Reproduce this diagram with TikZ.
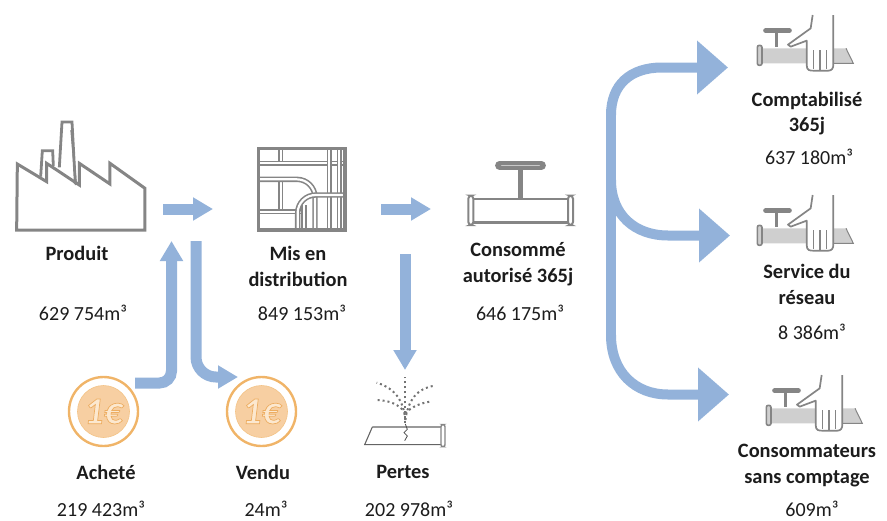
\documentclass[tikz,border=0pt]{standalone}
\usepackage{fontspec}
\setmainfont{Carlito}
\usetikzlibrary{arrows.meta}
\definecolor{flow}{HTML}{93B2DA}
\definecolor{ico}{HTML}{858585}
\definecolor{pipefill}{HTML}{CFCFCF}
\definecolor{coinring}{HTML}{F0B468}
\definecolor{coinfill}{HTML}{F7CFA2}
\definecolor{txt}{HTML}{1C1C1C}
\tikzset{
  title/.style={font=\fontsize{20.4}{25.5}\selectfont\bfseries,text=txt,align=center,inner sep=0pt},
  qty/.style={font=\fontsize{20}{22}\selectfont,text=txt,inner sep=0pt},
  flowS/.style={draw=flow,line width=11pt,rounded corners=#1,-{Triangle[length=20pt,width=22pt]}},
  flowS/.default=0pt,
  flowB/.style={draw=flow,line width=10pt,-{Triangle[length=31pt,width=52pt]}},
  ic/.style={draw=ico,line width=2.4pt,line join=miter},
  pp/.style={draw=ico,line width=1.6pt,double=white,double distance=2.2pt},
  zoomunits/.style={x=.33333pt,y=-.33333pt},
}
\newcommand{\handvalve}[3]{%
 \begin{scope}[shift={(#1,#2)},zoomunits]
  \node[inner sep=0pt] (#3) at (615,125) {};
  \fill[pipefill] (485,145) -- (738,145) -- (760,190) -- (485,190) -- cycle;
  \draw[ico,line width=1pt] (738,145) -- (760,190) -- (700,190);
  \draw[ico,line width=1.6pt,fill=pipefill,rounded corners=2pt] (472,136) rectangle (486,196);
  \draw[ico,line width=3.4pt] (530,95) -- (530,142);
  \draw[ico,line width=5pt,line cap=round] (497,92) -- (568,92);
  \draw[ico,line width=1.7pt,fill=white,line join=round]
    (638,45) -- (632,85) -- (564,134) -- (572,140) -- (620,122) -- (620,195)
    .. controls (620,212) and (630,212) .. (640,212) -- (685,212)
    .. controls (695,212) and (700,205) .. (700,195) -- (700,45);
  \draw[ico,line width=1.4pt] (640,150) -- (640,208) (660,150) -- (660,210) (680,150) -- (680,208);
 \end{scope}}
\newcommand{\coinicon}[3]{%
  \node[circle,draw=coinring,line width=2.4pt,minimum size=69pt,inner sep=0pt] (#3) at (#1,#2) {};
  \node[circle,draw=coinring!80,fill=coinfill,line width=.6pt,minimum size=52pt,inner sep=0pt,
        font=\fontsize{38}{38}\selectfont\bfseries\itshape] at (#1,#2)
        {\special{pdf:code q 2 Tr 0.7 w 0.93 0.68 0.38 RG 0.99 0.91 0.81 rg}1€\special{pdf:code Q}};
}
\begin{document}
\begin{tikzpicture}[x=1pt,y=-1pt]
\useasboundingbox (0,0) rectangle (887,520);

% factory
\begin{scope}[shift={(0,110)},zoomunits]
  \node[inner sep=0pt] (factory) at (240,200) {};
  \draw[ic,line width=2.8pt] (122,200) -- (127,122) -- (158,122) -- (160,168);
  \draw[ic,line width=2.8pt] (178,172) -- (186,36) -- (216,36) -- (226,222);
  \draw[ic,line width=2pt] (214,60) -- (228,225);
  \draw[ic,line width=3pt] (52,162) -- (140,215) -- (140,160) -- (238,225) -- (238,160)
     -- (330,222) -- (330,160) -- (435,235) -- (435,360) -- (50,360) -- cycle;
\end{scope}

% distribution network
\begin{scope}[shift={(0,110)},zoomunits]
  \node[inner sep=0pt] (distribution) at (905,237) {};
  \draw[pp] (842,115) -- (842,160);
  \draw[pp] (775,160) -- (1035,160);
  \draw[pp] (988,115) -- (988,360);
  \draw[pp] (1018,115) -- (1018,360);
  \draw[pp] (842,210) -- (842,305);
  \draw[pp] (775,305) -- (905,305);
  \draw[pp,rounded corners=18pt] (775,208) -- (945,208) -- (945,360);
  \draw[pp,rounded corners=18pt] (893,360) -- (893,255) -- (1035,255);
  \draw[pp] (912,285) -- (912,360);
  \draw[ico,line width=3.2pt] (775,116) rectangle (1035,360);
\end{scope}

% valve
\begin{scope}[shift={(360,130)},zoomunits]
  \node[inner sep=0pt] (valve) at (480,200) {};
  \draw[ico,line width=2.8pt] (338,207) rectangle (626,278);
  \draw[ico,line width=5.5pt] (481,108) -- (481,205);
  \draw[ico,line width=8.5pt,line cap=round] (418,106) -- (545,106);
  \draw[ico!45,line width=1.6pt,line cap=round] (425,106) -- (538,106);
  \draw[ico,line width=2pt,fill=white,rounded corners=3pt] (325,197) rectangle (340,285);
  \draw[ico,line width=2pt,fill=white,rounded corners=3pt] (624,197) rectangle (639,285);
\end{scope}

% hand valves
\handvalve{600}{0}{handA}
\handvalve{600}{180}{handB}
\handvalve{609}{360}{handC}

% coins
\coinicon{103.5}{411.5}{coinA}
\coinicon{261.5}{411.5}{coinB}

% leak
\begin{scope}[shift={(0,320)},zoomunits]
  \node[inner sep=0pt] (leak) at (1215,300) {};
  \draw[ico!75!black,line width=1.1pt] (1117,321) -- (1325,321) (1325,374) -- (1094,374) -- (1117,321);
  \draw[ico,line width=1.4pt,fill=white,rounded corners=2pt] (1323,314) rectangle (1335,380);
  \draw[black!70,line width=.8pt] (1216,312) -- (1222,328) -- (1212,338) -- (1222,348) -- (1214,362);
  \begin{scope}[black!55,line width=2pt,dash pattern=on 2pt off 3pt]
    \draw (1216,310) -- (1216,172);
    \draw (1216,300) .. controls (1210,240) and (1185,205) .. (1130,188);
    \draw (1216,280) .. controls (1200,255) and (1170,240) .. (1125,240);
    \draw (1216,300) .. controls (1225,240) and (1250,205) .. (1305,197);
    \draw (1216,280) .. controls (1235,260) and (1260,250) .. (1290,245);
  \end{scope}
\end{scope}

% connector ends
\coordinate (prodOut) at (163,209);
\coordinate (distIn) at (213,209);
\coordinate (buyOut) at (135,383);
\coordinate (buyIn) at (171.5,241);
\coordinate (buyBend) at (171.5,383);
\coordinate (sellOut) at (196,241);
\coordinate (sellBend) at (196,377);
\coordinate (sellIn) at (238,377);
\coordinate (distOut) at (381,209);
\coordinate (useIn) at (431,209);
\coordinate (lossOut) at (405,254);
\coordinate (lossIn) at (405,370);
\coordinate (trunkTop) at (611,115);
\coordinate (trunkBot) at (611,335);
\coordinate (acctIn) at (728,67.5);
\coordinate (servIn) at (730,235.5);
\coordinate (freeIn) at (729,394.5);

% small arrows
\draw[flowS] (prodOut) -- (distIn);
\draw[flowS] (distOut) -- (useIn);
\draw[flowS] (lossOut) -- (lossIn);
\draw[flowS=12pt] (buyOut) -- (buyBend) -- (buyIn);
\draw[flowS=20pt] (sellOut) -- (sellBend) -- (sellIn);

% large arrows
\draw[flow,line width=10pt] (trunkTop) -- (trunkBot);
\draw[flowB] (trunkTop) .. controls (611,85) and (630,67.5) .. (662,67.5) -- (acctIn);
\draw[flowB] (611,180) .. controls (611,215) and (635,235.5) .. (668,235.5) -- (servIn);
\draw[flowB] (trunkBot) .. controls (611,372) and (635,394.5) .. (668,394.5) -- (freeIn);

% texts
\node[title] (tProd) at (77,253) {Produit};
\node[qty] (qProd) at (83,313) {629 754m³};
\node[title] (tDist) at (298,266.5) {Mis en\\distribution};
\node[qty] (qDist) at (302,313) {849 153m³};
\node[title] (tUse) at (518,264) {Consommé\\autorisé 365j};
\node[qty] (qUse) at (520,313) {646 175m³};
\node[title] (tBuy) at (106,472) {Acheté};
\node[qty] (qBuy) at (101,508.5) {219 423m³};
\node[title] (tSell) at (263,472) {Vendu};
\node[qty] (qSell) at (266,508.5) {24m³};
\node[title] (tLoss) at (403,472) {Pertes};
\node[qty] (qLoss) at (409,508.5) {202 978m³};
\node[title] (tAcct) at (807,113.5) {Comptabilisé\\365j};
\node[qty] (qAcct) at (809,157) {637 180m³};
\node[title] (tServ) at (807,284.5) {Service du\\réseau};
\node[qty] (qServ) at (812,332) {8 386m³};
\node[title] (tFree) at (807,465.5) {Consommateurs\\sans comptage};
\node[qty] (qFree) at (812,508.5) {609m³};
\end{tikzpicture}
\end{document}
